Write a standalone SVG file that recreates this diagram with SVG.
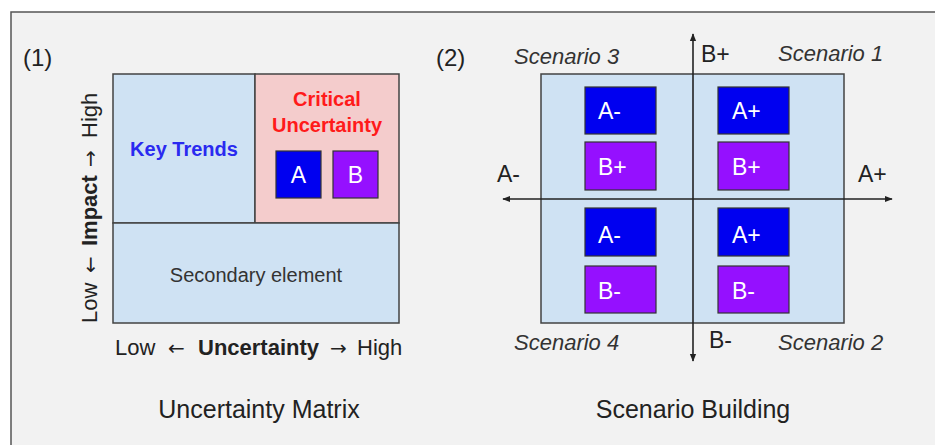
<svg xmlns="http://www.w3.org/2000/svg" width="935" height="445" viewBox="0 0 935 445">
<defs>
<style>
text{font-family:"Liberation Sans",Arial,sans-serif;}
.cell{stroke:#434343;stroke-width:1.5;}
.lb{fill:#cfe2f3;}
.pk{fill:#f4cccc;}
.bx{stroke:#333;stroke-width:1.2;}
.bl{fill:#0000f0;}
.pu{fill:#9510ff;}
.wt{fill:#fff;font-size:23px;}
.dk{fill:#222;}
.sc{font-size:22px;font-style:italic;fill:#333;}
.ax{stroke:#222;stroke-width:1.6;fill:none;}
.ar{font-family:"DejaVu Sans",sans-serif;}
</style>
<marker id="ah" viewBox="0 0 10 10" refX="9" refY="5" markerWidth="5" markerHeight="5" orient="auto-start-reverse">
<path d="M0,1 L10,5 L0,9 z" fill="#222"/>
</marker>
</defs>
<rect x="0" y="0" width="935" height="445" fill="#fff"/>
<rect x="11" y="12" width="930" height="440" fill="#f2f2f2" stroke="#555" stroke-width="1.5"/>

<text x="23" y="66" font-size="24" class="dk">(1)</text>
<text x="436" y="66" font-size="24" class="dk">(2)</text>

<g id="key-trends">
<rect x="113" y="74" width="142" height="149" class="cell lb"/>
<text x="184" y="156" font-size="20" font-weight="bold" fill="#2a2af0" text-anchor="middle">Key Trends</text>
</g>
<g id="critical-uncertainty">
<rect x="255" y="74" width="144" height="149" class="cell pk"/>
<text x="327" y="106" font-size="20" font-weight="bold" fill="#ff1a1a" text-anchor="middle">Critical</text>
<text x="327" y="132" font-size="20" font-weight="bold" fill="#ff1a1a" text-anchor="middle">Uncertainty</text>
</g>
<g id="box-a">
<rect x="276" y="151" width="45" height="47" class="bx bl"/>
<text x="298.5" y="183" class="wt" text-anchor="middle">A</text>
</g>
<g id="box-b">
<rect x="333" y="151" width="45" height="47" class="bx pu"/>
<text x="355.5" y="183" class="wt" text-anchor="middle">B</text>
</g>
<g id="secondary-element">
<rect x="113" y="223" width="286" height="100" class="cell lb"/>
<text x="256" y="282" font-size="20" fill="#333" text-anchor="middle">Secondary element</text>
</g>
<text y="355" font-size="22" class="dk"><tspan x="115">Low</tspan><tspan x="168" class="ar" font-size="20">←</tspan><tspan x="198" font-weight="bold">Uncertainty</tspan><tspan x="330" class="ar" font-size="20">→</tspan><tspan x="357">High</tspan></text>
<text transform="translate(97,323) rotate(-90)" font-size="22" class="dk"><tspan x="0">Low</tspan><tspan x="50" class="ar" font-size="20">←</tspan><tspan x="77" font-weight="bold">Impact</tspan><tspan x="156" class="ar" font-size="20">→</tspan><tspan x="185">High</tspan></text>
<text x="259" y="418" font-size="25" class="dk" text-anchor="middle">Uncertainty Matrix</text>

<g id="scenario-area">
<rect x="541" y="74" width="303" height="249" class="cell lb"/>
</g>
<g id="s3-a"><rect x="585" y="87" width="71" height="47" class="bx bl"/><text x="598" y="119" class="wt">A-</text></g>
<g id="s3-b"><rect x="585" y="142" width="71" height="48" class="bx pu"/><text x="598" y="175" class="wt">B+</text></g>
<g id="s1-a"><rect x="718" y="87" width="71" height="47" class="bx bl"/><text x="732" y="119" class="wt">A+</text></g>
<g id="s1-b"><rect x="718" y="142" width="71" height="48" class="bx pu"/><text x="732" y="175" class="wt">B+</text></g>
<g id="s4-a"><rect x="585" y="208" width="71" height="48" class="bx bl"/><text x="598" y="243" class="wt">A-</text></g>
<g id="s4-b"><rect x="585" y="266" width="71" height="47" class="bx pu"/><text x="598" y="299" class="wt">B-</text></g>
<g id="s2-a"><rect x="718" y="208" width="71" height="48" class="bx bl"/><text x="732" y="243" class="wt">A+</text></g>
<g id="s2-b"><rect x="718" y="266" width="71" height="47" class="bx pu"/><text x="732" y="299" class="wt">B-</text></g>

<g id="connectors">
<line x1="503" y1="199" x2="892" y2="199" class="ax" marker-start="url(#ah)" marker-end="url(#ah)"/>
<line x1="693" y1="34" x2="693" y2="361" class="ax" marker-start="url(#ah)" marker-end="url(#ah)"/>
</g>

<text x="514" y="64" class="sc">Scenario 3</text>
<text x="778" y="61" class="sc">Scenario 1</text>
<text x="514" y="350" class="sc">Scenario 4</text>
<text x="778" y="350" class="sc">Scenario 2</text>
<text x="701" y="62" font-size="23" class="dk">B+</text>
<text x="709" y="348" font-size="23" class="dk">B-</text>
<text x="497" y="182" font-size="23" class="dk">A-</text>
<text x="858" y="182" font-size="23" class="dk">A+</text>
<text x="693" y="418" font-size="25" class="dk" text-anchor="middle">Scenario Building</text>
</svg>
